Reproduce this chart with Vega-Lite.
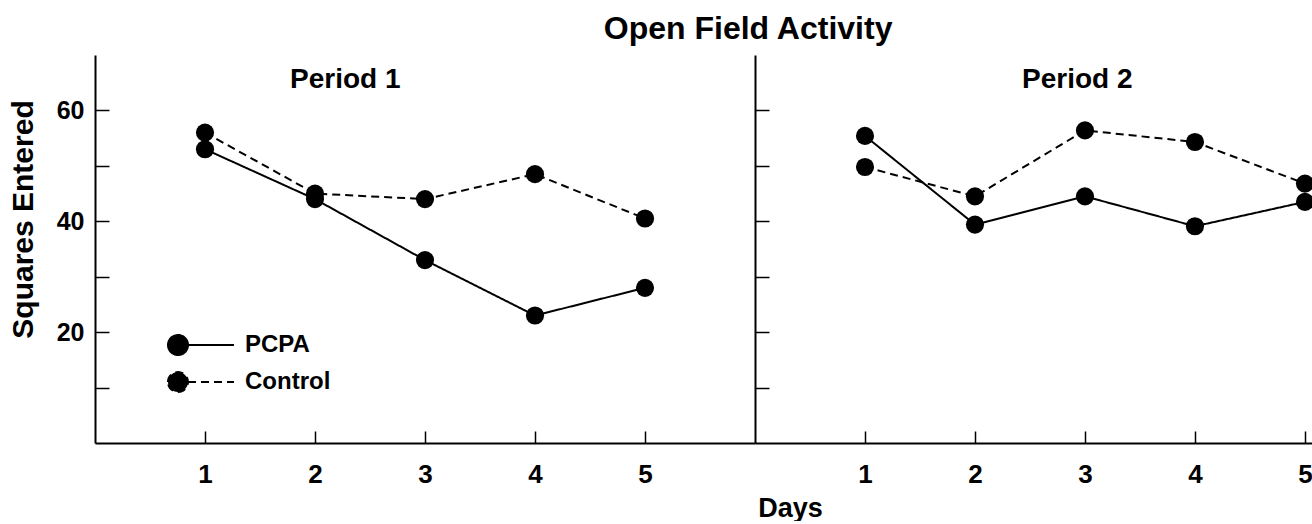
{
  "$schema": "https://vega.github.io/schema/vega-lite/v6.json",
  "background": "white",
  "padding": {"left": 8, "top": 13, "right": 0, "bottom": 0},
  "spacing": 0,
  "bounds": "flush",
  "config": {
    "view": {"stroke": null},
    "font": "Liberation Sans",
    "axis": {
      "domainColor": "black", "domainWidth": 2, "tickColor": "black", "tickWidth": 1.5,
      "labelFont": "Liberation Sans", "labelFontWeight": "bold", "labelColor": "black",
      "titleFont": "Liberation Sans", "titleFontWeight": "bold", "titleColor": "black",
      "grid": false
    },
    "title": {"font": "Liberation Sans", "fontWeight": "bold", "color": "black"}
  },
  "title": {"text": "Open Field Activity", "fontSize": 32, "anchor": "middle", "dx": 87, "dy": -9, "offset": 0},
  "resolve": {"scale": {"x": "independent", "strokeDash": "independent"}, "legend": {"strokeDash": "independent"}},
  "data": {"values": [
    {"period": 1, "group": "PCPA", "day": 1, "value": 53},
    {"period": 1, "group": "PCPA", "day": 2, "value": 44},
    {"period": 1, "group": "PCPA", "day": 3, "value": 33},
    {"period": 1, "group": "PCPA", "day": 4, "value": 23},
    {"period": 1, "group": "PCPA", "day": 5, "value": 28},
    {"period": 1, "group": "Control", "day": 1, "value": 56},
    {"period": 1, "group": "Control", "day": 2, "value": 45},
    {"period": 1, "group": "Control", "day": 3, "value": 44},
    {"period": 1, "group": "Control", "day": 4, "value": 48.5},
    {"period": 1, "group": "Control", "day": 5, "value": 40.5},
    {"period": 2, "group": "PCPA", "day": 1, "value": 55.4},
    {"period": 2, "group": "PCPA", "day": 2, "value": 39.4},
    {"period": 2, "group": "PCPA", "day": 3, "value": 44.5},
    {"period": 2, "group": "PCPA", "day": 4, "value": 39.1},
    {"period": 2, "group": "PCPA", "day": 5, "value": 43.5},
    {"period": 2, "group": "Control", "day": 1, "value": 49.8},
    {"period": 2, "group": "Control", "day": 2, "value": 44.5},
    {"period": 2, "group": "Control", "day": 3, "value": 56.4},
    {"period": 2, "group": "Control", "day": 4, "value": 54.3},
    {"period": 2, "group": "Control", "day": 5, "value": 46.8}
  ]},
  "hconcat": [
    {
      "width": 660, "height": 388,
      "title": {"text": "Period 1", "fontSize": 28, "anchor": "start", "frame": "group", "dx": 195, "dy": 43},
      "transform": [{"filter": "datum.period == 1"}],
      "encoding": {
        "x": {"field": "day", "type": "quantitative", "scale": {"domain": [0, 6], "nice": false, "zero": false},
              "axis": {"values": [1, 2, 3, 4, 5], "tickSize": -12, "labelPadding": 30, "labelFontSize": 26,
                       "title": "Days", "titleFontSize": 27, "titleX": 695, "titleY": 52}},
        "y": {"field": "value", "type": "quantitative", "scale": {"domain": [0, 70], "nice": false},
              "axis": {"values": [10, 20, 30, 40, 50, 60], "tickSize": -14, "labelPadding": 25, "labelFontSize": 25,
                       "labelExpr": "datum.value % 20 == 0 ? datum.label : ''",
                       "title": "Squares Entered", "titleFontSize": 30, "titlePadding": 18, "titleY": 164}}
      },
      "layer": [
        {
          "mark": {"type": "line", "color": "black", "strokeWidth": 2},
          "encoding": {
            "strokeDash": {"field": "group", "type": "nominal",
              "scale": {"domain": ["PCPA", "Control"], "range": [[1, 0], [8, 5]]},
              "legend": {"title": null, "orient": "none", "legendX": 71, "legendY": 278, "padding": 0,
                "symbolType": "M-1,0A1,1 0 1,1 1,0A1,1 0 1,1 -1,0Z M1,0L5.6,0",
                "symbolSize": 400, "symbolStrokeWidth": 2, "symbolStrokeColor": "black", "symbolFillColor": "black",
                "labelFontSize": 24, "labelFont": "Liberation Sans", "labelFontWeight": "bold", "labelColor": "black",
                "labelOffset": 55, "rowPadding": 9,
                "encode": {"symbols": {"update": {"fill": {"value": "black"}, "stroke": {"value": "black"}, "opacity": {"value": 1}}}}}
            }
          }
        },
        {
          "mark": {"type": "point", "filled": true, "size": 330, "color": "black", "opacity": 1},
          "encoding": {"detail": {"field": "group", "type": "nominal"}}
        }
      ]
    },
    {
      "width": 557, "height": 388,
      "title": {"text": "Period 2", "fontSize": 28, "anchor": "start", "frame": "group", "dx": 267, "dy": 43},
      "transform": [{"filter": "datum.period == 2"}],
      "encoding": {
        "x": {"field": "day", "type": "quantitative", "scale": {"domain": [0, 5.064], "nice": false, "zero": false},
              "axis": {"values": [1, 2, 3, 4, 5], "tickSize": -12, "labelPadding": 30, "labelFontSize": 26, "title": null}},
        "y": {"field": "value", "type": "quantitative", "scale": {"domain": [0, 70], "nice": false},
              "axis": {"values": [10, 20, 30, 40, 50, 60], "tickSize": -14, "labels": false, "title": null}}
      },
      "layer": [
        {
          "mark": {"type": "line", "color": "black", "strokeWidth": 2},
          "encoding": {
            "strokeDash": {"field": "group", "type": "nominal",
              "scale": {"domain": ["PCPA", "Control"], "range": [[1, 0], [8, 5]]}, "legend": null}
          }
        },
        {
          "mark": {"type": "point", "filled": true, "size": 330, "color": "black", "opacity": 1},
          "encoding": {"detail": {"field": "group", "type": "nominal"}}
        }
      ]
    }
  ]
}
